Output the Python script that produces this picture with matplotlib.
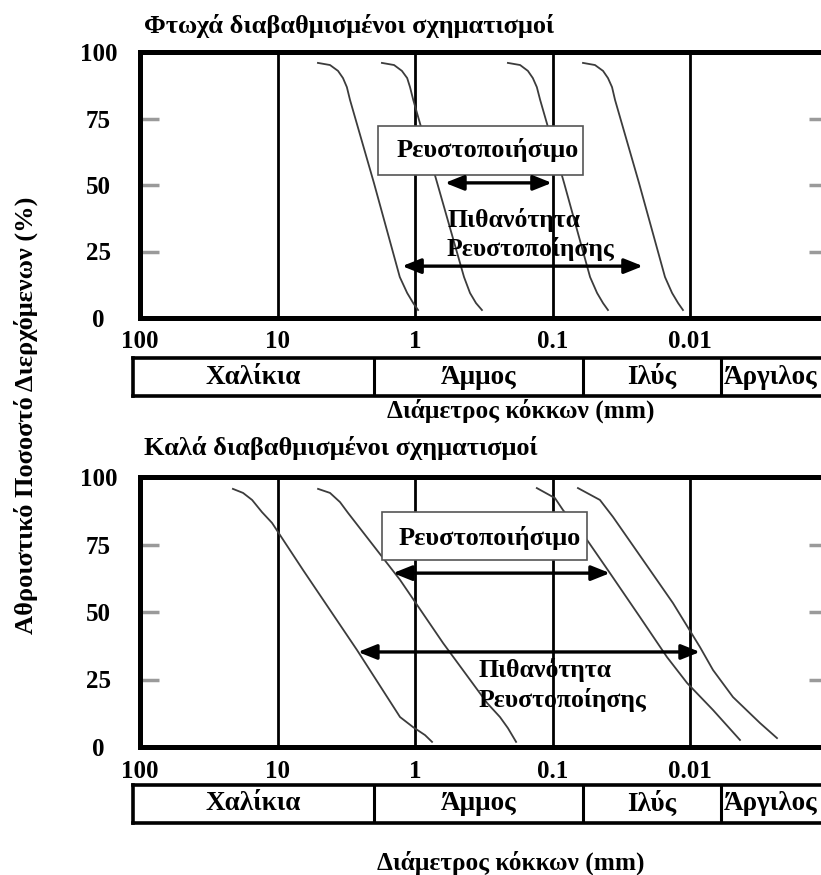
import matplotlib.pyplot as plt
from matplotlib.patches import Rectangle

plt.rcParams['font.family'] = ['Liberation Serif', 'DejaVu Serif']
plt.rcParams['font.weight'] = 'bold'

W, H = 821, 875          # figure size in pixels
DEC = 137.5              # pixels per decade on the x axis

# ---- data ----
x_ticks = [100, 10, 1, 0.1, 0.01]
x_tick_labels = ['100', '10', '1', '0.1', '0.01']
y_ticks = [0, 25, 50, 75, 100]

soil_names = ['Χαλίκια', 'Άμμος', 'Ιλύς', 'Άργιλος']
soil_limits = [2, 0.06, 0.006]          # mm, class boundaries

# poorly graded (top) - percent passing and diameters (mm)
poor_pct = [95.9, 95.1, 92.9, 90.2, 86.8, 82.0, 50.8, 15.4, 9.4, 5.6, 3.0]
poor_d1 = [5.08, 4.15, 3.63, 3.34, 3.13, 2.97, 1.99, 1.29, 1.14, 1.03, 0.95]
poor_d2 = [1.74, 1.42, 1.245, 1.14, 1.087, 1.03, 0.69, 0.44, 0.398, 0.36, 0.326]
poor_d3 = [0.211, 0.172, 0.151, 0.139, 0.130, 0.123, 0.0824, 0.0533, 0.0474, 0.0429, 0.0395]
poor_d4 = [0.060, 0.0491, 0.0429, 0.0395, 0.0369, 0.0351, 0.0235, 0.0152, 0.0135, 0.0122, 0.01125]

# well graded (bottom)
well_d1 = [21.1, 17.8, 15.3, 12.97, 10.96, 6.53, 2.64, 1.285, 1.035, 0.845, 0.752]
well_p1 = [95.6, 94.1, 91.5, 87.0, 83.0, 65.6, 35.9, 11.1, 7.4, 4.4, 1.9]
well_d2 = [5.07, 4.15, 3.51, 3.07, 1.285, 0.625, 0.299, 0.241, 0.211, 0.184]
well_p2 = [95.6, 94.1, 90.7, 86.7, 61.9, 38.5, 16.3, 11.1, 7.0, 1.9]
well_d3 = [0.130, 0.096, 0.084, 0.0561, 0.0382, 0.0231, 0.0147, 0.0105, 0.0068, 0.00433]
well_p3 = [95.9, 92.2, 87.8, 76.7, 64.4, 48.1, 33.3, 23.7, 13.7, 2.6]
well_d4 = [0.0653, 0.0452, 0.0363, 0.022, 0.0133, 0.00846, 0.0068, 0.00487, 0.0031, 0.00233]
well_p4 = [95.9, 91.5, 85.2, 69.3, 53.3, 37.0, 28.5, 18.5, 8.9, 3.3]

# liquefaction ranges: (d_from, d_to, percent)
poor_liq = (0.605, 0.101, 50.8)
poor_pot = (1.24, 0.022, 19.5)
well_liq = (1.445, 0.0382, 64.4)
well_pot = (2.6, 0.00846, 35.2)

fig = plt.figure(figsize=(W / 100, H / 100), dpi=100)


def px_box(left, top, width, height):
    return [left / W, 1 - (top + height) / H, width / W, height / H]


def setup_axes(ax):
    ax.set_xscale('log')
    ax.set_xlim(100, 100 * 10 ** (-687.5 / DEC))
    ax.set_ylim(0, 100)
    ax.set_xticks(x_ticks)
    ax.set_xticklabels(x_tick_labels)
    ax.minorticks_off()
    ax.set_yticks(y_ticks)
    ax.tick_params(axis='x', length=0, pad=9, labelsize=18)
    ax.tick_params(axis='y', direction='in', length=14, width=2.5,
                   color='#9a9a9a', left=True, right=True, pad=30, labelsize=18)
    for lab in ax.get_yticklabels():
        lab.set_horizontalalignment('center')
    for s in ax.spines.values():
        s.set_linewidth(3.6)
    for v in x_ticks[1:]:
        ax.axvline(v, color='black', lw=2.0, zorder=1)


def draw_table(top):
    left_val = 100 * 10 ** (7 / DEC)
    t = fig.add_axes(px_box(133, top, 7 + 687.5, 38))
    t.set_xscale('log')
    t.set_xlim(left_val, 100 * 10 ** (-687.5 / DEC))
    t.set_ylim(0, 1)
    t.set_xticks([])
    t.set_yticks([])
    t.minorticks_off()
    for s in t.spines.values():
        s.set_linewidth(2.6)
    for b in soil_limits:
        t.axvline(b, color='black', lw=2.2)
    edges = [left_val] + soil_limits
    for i, name in enumerate(soil_names[:3]):
        c = (edges[i] * edges[i + 1]) ** 0.5
        t.text(c, 0.5, name, ha='center', va='center', fontsize=19.5)
    t.text(soil_limits[-1] * 0.94, 0.5, soil_names[3], ha='left', va='center', fontsize=19.5)


def arrow(ax, rng):
    ax.annotate('', xy=(rng[1], rng[2]), xytext=(rng[0], rng[2]),
                arrowprops=dict(arrowstyle='<|-|>,head_length=0.8,head_width=0.32',
                                mutation_scale=14, lw=2.4, color='black',
                                shrinkA=0, shrinkB=0), zorder=4)


curve_kw = dict(color='#3c3c3c', lw=1.3, zorder=2)

# ---- top panel ----
ax1 = fig.add_axes(px_box(140, 52, 687.5, 266))
setup_axes(ax1)
for d in [poor_d1, poor_d2, poor_d3, poor_d4]:
    ax1.plot(d, poor_pct, **curve_kw)
ax1.add_patch(Rectangle((1.858, 53.8), 0.06 - 1.858, 72.2 - 53.8, fc='white',
                        ec='#555555', lw=1.2, zorder=3))
ax1.text(0.294, 63.2, 'Ρευστοποιήσιμο', ha='center', va='center', fontsize=19, zorder=5)
arrow(ax1, poor_liq)
arrow(ax1, poor_pot)
ax1.text(0.585, 36.8, 'Πιθανότητα', ha='left', va='center', fontsize=18.5, zorder=5)
ax1.text(0.585, 26.0, 'Ρευστοποίησης', ha='left', va='center', fontsize=18.5, zorder=5)
draw_table(358)
fig.text(144 / W, 1 - 26 / H, 'Φτωχά διαβαθμισμένοι σχηματισμοί', ha='left', va='center', fontsize=19)
fig.text(521 / W, 1 - 411 / H, 'Διάμετρος κόκκων (mm)', ha='center', va='center', fontsize=18.3)

# ---- bottom panel ----
ax2 = fig.add_axes(px_box(140, 477, 687.5, 270))
setup_axes(ax2)
for d, p in [(well_d1, well_p1), (well_d2, well_p2), (well_d3, well_p3), (well_d4, well_p4)]:
    ax2.plot(d, p, **curve_kw)
ax2.add_patch(Rectangle((1.738, 69.3), 0.0561 - 1.738, 87.0 - 69.3, fc='white',
                        ec='#555555', lw=1.2, zorder=3))
ax2.text(0.285, 77.5, 'Ρευστοποιήσιμο', ha='center', va='center', fontsize=19, zorder=5)
arrow(ax2, well_liq)
arrow(ax2, well_pot)
ax2.text(0.343, 28.5, 'Πιθανότητα', ha='left', va='center', fontsize=18.5, zorder=5)
ax2.text(0.343, 17.4, 'Ρευστοποίησης', ha='left', va='center', fontsize=18.5, zorder=5)
draw_table(785)
fig.text(144 / W, 1 - 448 / H, 'Καλά διαβαθμισμένοι σχηματισμοί', ha='left', va='center', fontsize=19)
fig.text(511 / W, 1 - 863 / H, 'Διάμετρος κόκκων (mm)', ha='center', va='center', fontsize=18.3)

fig.text(26 / W, 1 - 415 / H, 'Αθροιστικό Ποσοστό Διερχόμενων (%)', rotation=90,
         ha='center', va='center', fontsize=19)

fig.savefig('out.png', dpi=100)
